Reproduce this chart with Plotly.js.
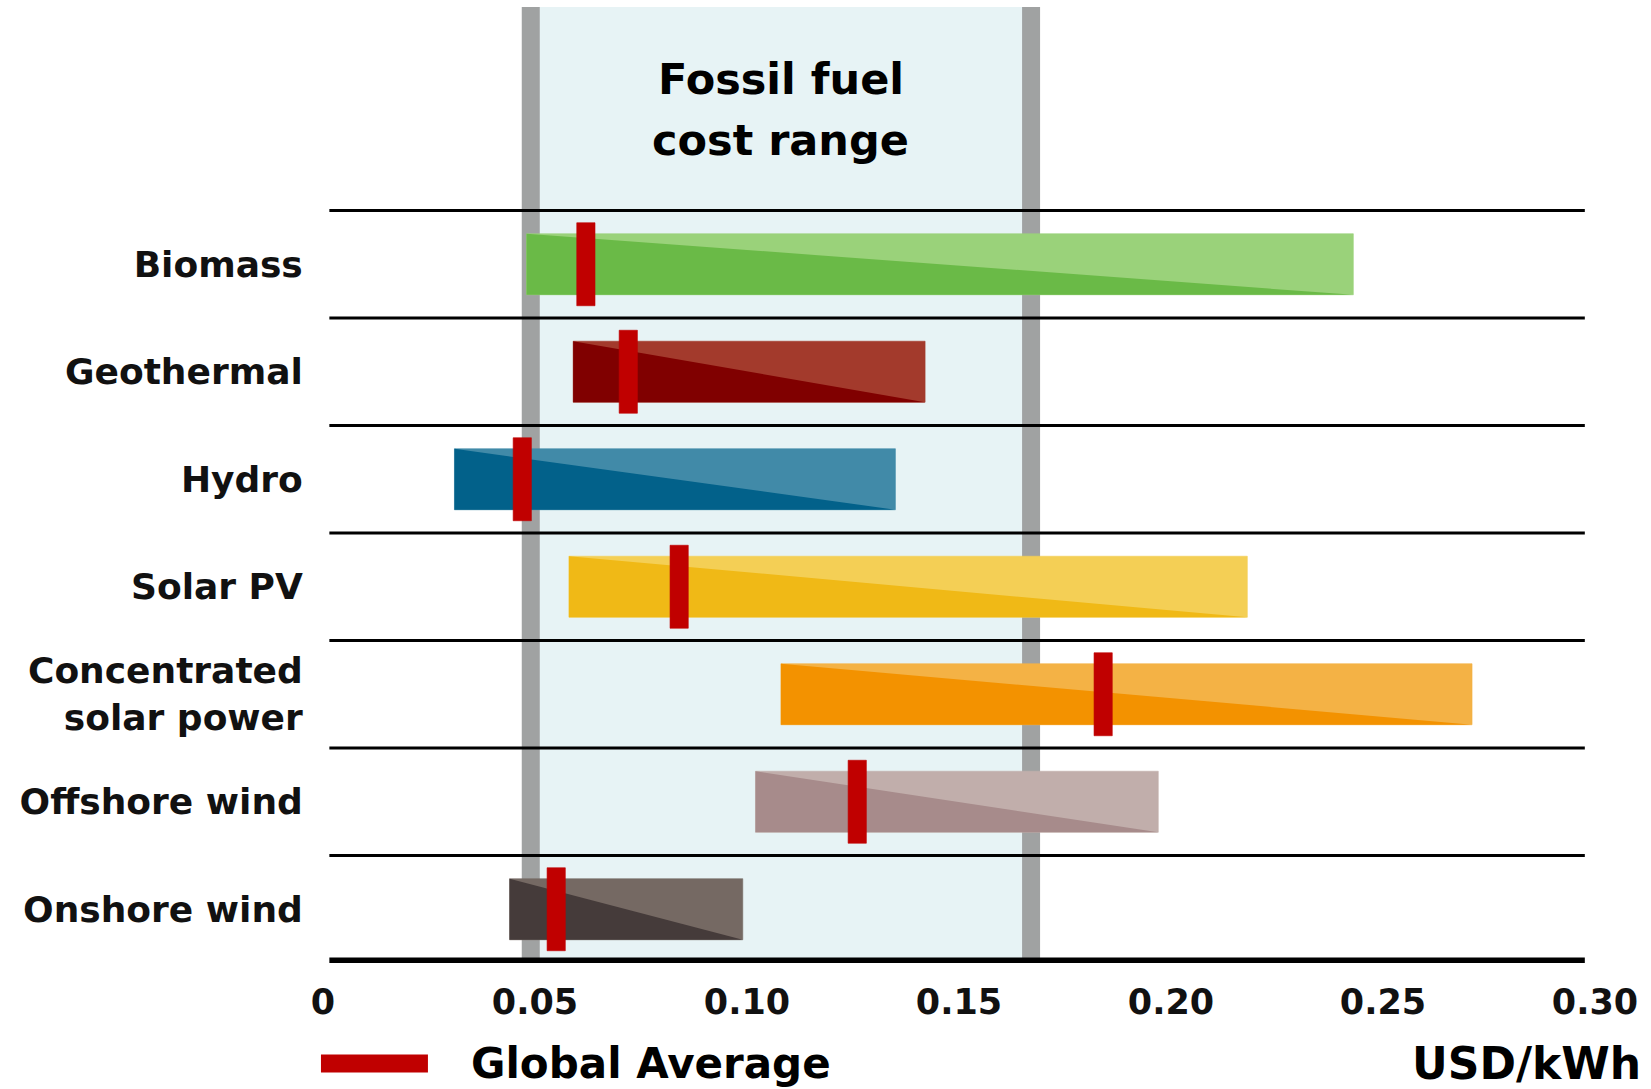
<!DOCTYPE html>
<html>
<head>
<meta charset="utf-8">
<script src="https://cdn.plot.ly/plotly-3.0.1.min.js"></script>
<style>
  html, body { margin: 0; padding: 0; background: #ffffff; }
  #chart { width: 1651px; height: 1089px; }
</style>
</head>
<body>
<div id="chart"></div>
<script>
// ---- Data (USD/kWh) ----
const categories = ['Biomass', 'Geothermal', 'Hydro', 'Solar PV', 'Concentrated<br>solar power', 'Offshore wind', 'Onshore wind'];
const costMin    = [0.048, 0.059, 0.031, 0.058, 0.108, 0.102, 0.044];
const costMax    = [0.243, 0.142, 0.135, 0.218, 0.271, 0.197, 0.099];
const globalAvg  = [0.062, 0.072, 0.047, 0.084, 0.184, 0.126, 0.055];
const fossilRange = [0.049, 0.167];
const xTickVals  = [0, 0.05, 0.10, 0.15, 0.20, 0.25, 0.30];
const xTickText  = ['0', '0.05', '0.10', '0.15', '0.20', '0.25', '0.30'];

// ---- Styles ----
const darkColors  = ['#6aba47', '#800000', '#02618a', '#f0b916', '#f39200', '#a78b8b', '#453b3a'];
const lightColors = ['#9ad27a', '#a33a2c', '#418aa8', '#f4cf55', '#f4b245', '#c1aeab', '#756963'];
const avgColor = '#c00000';
const FONT = '"DejaVu Sans", sans-serif';
const barHalf = 0.284;    // half bar height in row units
const avgHalf = 0.386;    // half marker height in row units
const avgHalfW = 0.00215; // half marker width in x units

const traces = [];
categories.forEach((c, i) => {
  const a = costMin[i], b = costMax[i];
  const top = i - barHalf, bot = i + barHalf;
  traces.push({
    type: 'scatter', mode: 'lines', x: [a, b, b, a, a], y: [top, top, bot, bot, top],
    fill: 'toself', fillcolor: lightColors[i], line: {width: 0.6, color: lightColors[i]},
    hoverinfo: 'skip', showlegend: false
  });
  traces.push({
    type: 'scatter', mode: 'lines', x: [a, a, b, a], y: [top, bot, bot, top],
    fill: 'toself', fillcolor: darkColors[i], line: {width: 0, color: darkColors[i]},
    hoverinfo: 'skip', showlegend: false
  });
});
categories.forEach((c, i) => {
  const m = globalAvg[i];
  traces.push({
    type: 'scatter', mode: 'lines',
    x: [m - avgHalfW, m + avgHalfW, m + avgHalfW, m - avgHalfW, m - avgHalfW],
    y: [i - avgHalf, i - avgHalf, i + avgHalf, i + avgHalf, i - avgHalf],
    fill: 'toself', fillcolor: avgColor, line: {width: 0.6, color: avgColor},
    hoverinfo: 'skip', showlegend: false
  });
});

const shapes = [];
shapes.push({type: 'rect', layer: 'below', xref: 'x', yref: 'paper',
  x0: fossilRange[0], x1: fossilRange[1], y0: 0, y1: 1,
  fillcolor: '#e7f3f5', line: {width: 0}});
fossilRange.forEach(v => {
  shapes.push({type: 'line', layer: 'below', xref: 'x', yref: 'paper',
    x0: v, x1: v, y0: 0, y1: 1, line: {color: '#a0a2a2', width: 18}});
});
for (let i = 0; i < categories.length; i++) {
  shapes.push({type: 'line', layer: 'below', xref: 'paper', yref: 'y',
    x0: 0.005, x1: 0.992, y0: i - 0.5, y1: i - 0.5, line: {color: '#000000', width: 3}});
}
shapes.push({type: 'line', layer: 'above', xref: 'paper', yref: 'y',
  x0: 0.005, x1: 0.992, y0: categories.length - 0.5, y1: categories.length - 0.5,
  line: {color: '#000000', width: 11}});
shapes.push({type: 'line', xref: 'paper', yref: 'paper',
  x0: -0.0016, x1: 0.0825, y0: -0.105, y1: -0.105, line: {color: avgColor, width: 18}});

const annotations = [
  {text: '<b>Fossil fuel</b>', xref: 'x', yref: 'paper',
   x: (fossilRange[0] + fossilRange[1]) / 2, y: 0.9247, xanchor: 'center', yanchor: 'middle',
   showarrow: false, font: {family: FONT, size: 43, color: '#000'}},
  {text: '<b>cost range</b>', xref: 'x', yref: 'paper',
   x: (fossilRange[0] + fossilRange[1]) / 2, y: 0.861, xanchor: 'center', yanchor: 'middle',
   showarrow: false, font: {family: FONT, size: 43, color: '#000'}},
  {text: '<b>Global Average</b>', xref: 'paper', yref: 'paper', x: 0.115, y: -0.105,
   xanchor: 'left', yanchor: 'middle', showarrow: false, font: {family: FONT, size: 42, color: '#000'}},
  {text: '<b>USD/kWh</b>', xref: 'paper', yref: 'paper', x: 1.0377, y: -0.105,
   xanchor: 'right', yanchor: 'middle', showarrow: false, font: {family: FONT, size: 44, color: '#000'}}
];

const layout = {
  width: 1651, height: 1089,
  margin: {l: 323, r: 56, t: 7, b: 126, pad: 0},
  paper_bgcolor: '#ffffff', plot_bgcolor: 'rgba(0,0,0,0)',
  showlegend: false,
  xaxis: {
    range: [0, 0.30], autorange: false, fixedrange: true,
    showgrid: false, zeroline: false, showline: false,
    tickvals: xTickVals, ticktext: xTickText.map(t => '<b>' + t + '</b>'),
    ticks: 'outside', ticklen: 8, tickcolor: 'rgba(0,0,0,0)',
    tickfont: {family: FONT, size: 35, color: '#111'}
  },
  yaxis: {
    range: [6.5, -2.393], autorange: false, fixedrange: true,
    showgrid: false, zeroline: false, showline: false,
    tickvals: categories.map((c, i) => i), ticktext: categories.map(c => '<b>' + c + '</b>'),
    ticks: 'outside', ticklen: 12, tickcolor: 'rgba(0,0,0,0)',
    tickfont: {family: FONT, size: 36, color: '#111'}
  },
  shapes: shapes,
  annotations: annotations
};

Plotly.newPlot('chart', traces, layout, {displayModeBar: false, staticPlot: true});
</script>
</body>
</html>
